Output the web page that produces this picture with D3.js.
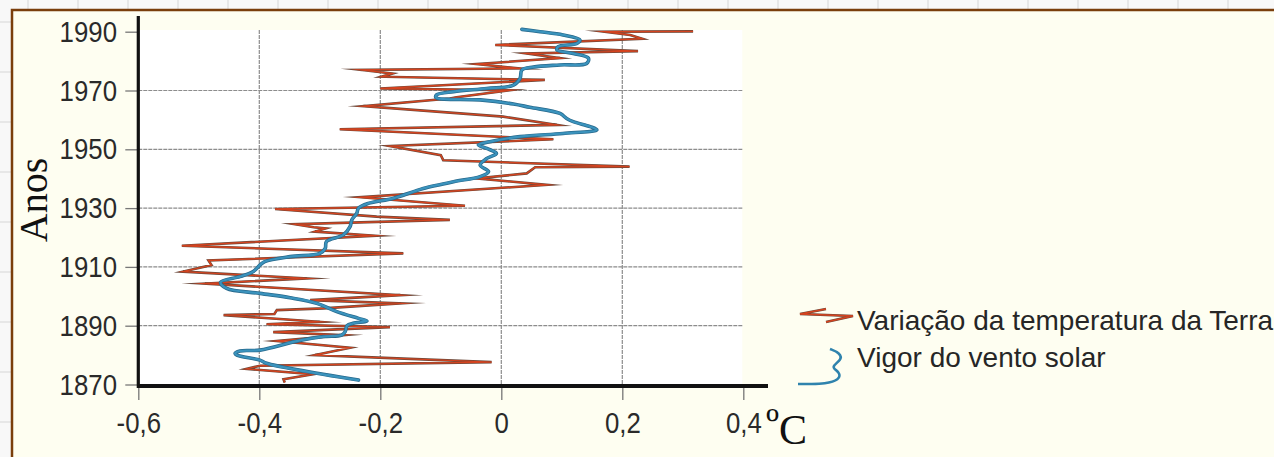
<!DOCTYPE html>
<html>
<head>
<meta charset="utf-8">
<script src="https://cdn.jsdelivr.net/npm/d3@7"></script>
<style>
  html, body { margin: 0; padding: 0; background: #f7f7f7; overflow: hidden; }
  svg { display: block; }
</style>
</head>
<body>
<svg id="chart" width="1274" height="457"></svg>
<script>
// Axis ticks
const yearTicks = [1870, 1890, 1910, 1930, 1950, 1970, 1990];
const tempTicks = [-0.6, -0.4, -0.2, 0, 0.2, 0.4];

// Earth temperature variation (°C) — zigzag vertices by year
const tempYears = [
  1870.7, 1871.8, 1873.5, 1875.3, 1876.4, 1877.6, 1880.0, 1882.5, 1884.8, 1886.8,
  1887.8, 1889.5, 1890.5, 1891.3, 1892.2, 1893.6, 1894.0, 1895.3, 1895.9, 1897.6,
  1898.7, 1900.4, 1904.3, 1906.1, 1908.4, 1910.6, 1912.2, 1914.6, 1917.2, 1920.6,
  1922.0, 1923.1, 1923.5, 1924.5, 1926.0, 1927.1, 1929.7, 1930.8, 1933.7, 1937.9,
  1940.1, 1941.8, 1943.9, 1944.1, 1946.3, 1948.0, 1951.1, 1953.4, 1956.8, 1958.3,
  1961.1, 1964.7, 1967.3, 1967.7, 1970.1, 1970.7, 1973.6, 1974.7, 1975.8, 1977.0,
  1977.5, 1979.0, 1981.0, 1982.6, 1983.4, 1985.5, 1987.6, 1988.9, 1990.0, 1990.1
];
const tempValues = [
  -0.358, -0.360, -0.311, -0.421, -0.399, -0.016, -0.308, -0.250, -0.371, -0.261,
  -0.377, -0.184, -0.388, -0.300, -0.360, -0.459, -0.375, -0.371, -0.294, -0.167,
  -0.316, -0.167, -0.490, -0.322, -0.526, -0.479, -0.484, -0.162, -0.528, -0.209,
  -0.308, -0.290, -0.310, -0.341, -0.085, -0.206, -0.374, -0.060, -0.233, 0.075,
  -0.041, 0.042, 0.056, 0.212, -0.096, -0.100, -0.184, 0.086, -0.267, 0.092,
  0.003, -0.228, -0.085, -0.074, 0.014, -0.200, 0.072, -0.198, -0.180, -0.231,
  0.031, -0.041, 0.097, 0.042, 0.226, -0.010, 0.233, 0.213, 0.171, 0.317
];

// Solar wind strength — smooth curve by year
const windYears = [
  1871.5, 1877.2, 1878.3, 1880.0, 1880.6, 1881.4, 1881.7, 1885.0, 1886.3, 1886.8,
  1888.0, 1890.0, 1890.8, 1891.6, 1892.5, 1894.8, 1897.6, 1899.5, 1901.0, 1902.7,
  1904.8, 1906.7, 1908.4, 1910.6, 1911.8, 1913.5, 1914.6, 1916.3, 1918.6, 1920.9,
  1923.7, 1926.0, 1928.2, 1930.0, 1931.6, 1933.3, 1935.6, 1936.7, 1939.0, 1940.7,
  1942.4, 1944.6, 1946.9, 1948.6, 1950.3, 1951.5, 1952.6, 1954.3, 1955.4, 1956.6,
  1957.7, 1959.4, 1960.5, 1962.2, 1964.3, 1965.4, 1966.8, 1967.6, 1968.5, 1969.6,
  1970.7, 1971.8, 1974.1, 1977.0, 1978.0, 1978.7, 1979.2, 1981.0, 1982.6, 1983.8,
  1984.9, 1986.0, 1987.2, 1988.9, 1990.0, 1990.8
];
const windValues = [
  -0.236, -0.388, -0.399, -0.437, -0.440, -0.432, -0.399, -0.333, -0.294, -0.264,
  -0.258, -0.255, -0.245, -0.222, -0.236, -0.272, -0.305, -0.349, -0.399, -0.454,
  -0.464, -0.432, -0.410, -0.399, -0.391, -0.349, -0.300, -0.291, -0.289, -0.261,
  -0.250, -0.247, -0.239, -0.236, -0.220, -0.179, -0.145, -0.129, -0.079, -0.035,
  -0.021, -0.035, -0.024, -0.008, -0.024, -0.038, -0.019, 0.031, 0.102, 0.158,
  0.147, 0.119, 0.108, 0.097, 0.047, 0.020, -0.035, -0.108, -0.107, -0.079,
  -0.024, 0.020, 0.031, 0.034, 0.053, 0.097, 0.141, 0.144, 0.119, 0.092,
  0.094, 0.125, 0.130, 0.102, 0.064, 0.034
];

const legendLabels = ["Variação da temperatura da Terra", "Vigor do vento solar"];

const temp = tempYears.map((yr, i) => ({ year: yr, value: tempValues[i] }));
const wind = windYears.map((yr, i) => ({ year: yr, value: windValues[i] }));

const svg = d3.select("#chart");
const W = 1274, H = 457;

// Page backdrop with faint sheet grid
const sheet = svg.append("g");
sheet.append("rect").attr("width", W).attr("height", H).attr("fill", "#f8f8f8");
sheet.selectAll("line.v").data(d3.range(28, W, 50)).join("line")
  .attr("x1", d => d).attr("x2", d => d).attr("y1", 0).attr("y2", 10)
  .attr("stroke", "#e2e2e2").attr("stroke-width", 1.5);
sheet.selectAll("line.h").data(d3.range(22, H, 50)).join("line")
  .attr("y1", d => d).attr("y2", d => d).attr("x1", 0).attr("x2", 11)
  .attr("stroke", "#e2e2e2").attr("stroke-width", 1.5);

// Framed panel
svg.append("rect")
  .attr("x", 12).attr("y", 10).attr("width", W + 10).attr("height", H + 10)
  .attr("fill", "#fefef1").attr("stroke", "#7a3e0c").attr("stroke-width", 2.5);

// Scales
const x = d3.scaleLinear().domain([-0.6, 0.4]).range([138.3, 743.3]);
const y = d3.scaleLinear().domain([1870, 1990]).range([384.5, 31.7]);

// Plot area
svg.append("rect")
  .attr("x", x(-0.6)).attr("y", 30)
  .attr("width", x(0.4) - x(-0.6) - 1).attr("height", 386 - 30)
  .attr("fill", "#ffffff");

// Grid
const grid = svg.append("g").attr("stroke", "#8c8c8c").attr("stroke-width", 1.2)
  .attr("stroke-dasharray", "4,1");
grid.selectAll("line.gy").data(yearTicks.filter(t => t > 1870 && t < 1990)).join("line")
  .attr("x1", x(-0.6)).attr("x2", x(0.4) - 1)
  .attr("y1", d => y(d)).attr("y2", d => y(d));
grid.selectAll("line.gx").data(tempTicks.filter(t => t > -0.6 && t < 0.4)).join("line")
  .attr("x1", d => x(d)).attr("x2", d => x(d))
  .attr("y1", 30).attr("y2", 386);

// Series lines
const tempLine = d3.line().x(d => x(d.value)).y(d => y(d.year)).curve(d3.curveLinear);
const windLine = d3.line().x(d => x(d.value)).y(d => y(d.year)).curve(d3.curveCatmullRom.alpha(0.5));

svg.append("path").datum(temp).attr("d", tempLine)
  .attr("fill", "none").attr("stroke", "#6a4a3c").attr("stroke-width", 2.6)
  .attr("stroke-linejoin", "miter").attr("stroke-miterlimit", 20);
svg.append("path").datum(temp).attr("d", tempLine)
  .attr("fill", "none").attr("stroke", "#d5431f").attr("stroke-width", 1.4)
  .attr("stroke-linejoin", "miter").attr("stroke-miterlimit", 20);

svg.append("path").datum(wind).attr("d", windLine)
  .attr("fill", "none").attr("stroke", "#27698c").attr("stroke-width", 3.6)
  .attr("stroke-linejoin", "round").attr("stroke-linecap", "round");
svg.append("path").datum(wind).attr("d", windLine)
  .attr("fill", "none").attr("stroke", "#3b93bd").attr("stroke-width", 2.2)
  .attr("stroke-linejoin", "round").attr("stroke-linecap", "round");

// Axes — tall, condensed tick labels
const tickFont = "'Liberation Sans', Arial, sans-serif";
const squeeze = 0.86;

const yAxis = svg.append("g").attr("transform", `translate(${x(-0.6)},0)`)
  .call(d3.axisLeft(y).tickValues(yearTicks).tickSize(13).tickFormat(d3.format("d")));
yAxis.select(".domain").remove();
yAxis.selectAll(".tick line").attr("stroke", "#777").attr("stroke-width", 1.3);
yAxis.selectAll(".tick text")
  .attr("x", -21.3 / squeeze)
  .attr("transform", `scale(${squeeze},1)`)
  .attr("font-family", tickFont).attr("font-size", 30).attr("fill", "#2a2a2a");

const xAxis = svg.append("g").attr("transform", `translate(0,386)`)
  .call(d3.axisBottom(x).tickValues(tempTicks).tickSize(14).tickPadding(12)
    .tickFormat(d => d === 0 ? "0" : d3.format(".1f")(d).replace(".", ",").replace("−", "-")));
xAxis.select(".domain").remove();
xAxis.selectAll(".tick line").attr("stroke", "#777").attr("stroke-width", 1.3);
xAxis.selectAll(".tick text")
  .attr("transform", `scale(${squeeze},1)`)
  .attr("font-family", tickFont).attr("font-size", 30).attr("fill", "#2a2a2a");

// Heavy axis lines
svg.append("line").attr("x1", x(-0.6)).attr("x2", x(-0.6)).attr("y1", 16).attr("y2", 388)
  .attr("stroke", "#111").attr("stroke-width", 3.2);
svg.append("line").attr("x1", x(-0.6) - 1).attr("x2", 768).attr("y1", 386).attr("y2", 386)
  .attr("stroke", "#111").attr("stroke-width", 4);

// Axis titles
svg.append("text").attr("transform", "translate(47,200) rotate(-90)")
  .attr("text-anchor", "middle").attr("font-family", "'Liberation Serif', 'Times New Roman', serif")
  .attr("font-size", 40).attr("fill", "#111").text("Anos");
svg.append("text").attr("x", 766).attr("y", 444)
  .attr("font-family", "'Liberation Serif', 'Times New Roman', serif")
  .attr("fill", "#111")
  .call(t => {
    t.append("tspan").attr("font-size", 42).attr("dy", -6).text("º");
    t.append("tspan").attr("font-size", 42).attr("dy", 6).text("C");
  });

// Legend
const legend = svg.append("g");
const iconLine = d3.line().curve(d3.curveLinear);
const zig = [[826, 309], [800, 314], [853, 316], [826, 322]];
legend.append("path").attr("d", iconLine(zig))
  .attr("fill", "none").attr("stroke", "#6a4a3c").attr("stroke-width", 2.4);
legend.append("path").attr("d", iconLine(zig))
  .attr("fill", "none").attr("stroke", "#d5431f").attr("stroke-width", 1.3);
legend.append("path")
  .attr("d", d3.line().curve(d3.curveBasis)([[798, 384], [812, 384], [824, 384], [840, 380], [840, 372], [830, 367], [842, 360], [840, 353], [830, 349]]))
  .attr("fill", "none").attr("stroke", "#2f83ad").attr("stroke-width", 2.6);

legend.selectAll("text").data(legendLabels).join("text")
  .attr("x", 857).attr("y", (d, i) => 330 + i * 37)
  .attr("font-family", "'Liberation Sans', Arial, sans-serif")
  .attr("font-size", 28).attr("fill", "#262626")
  .text(d => d);
</script>
</body>
</html>
